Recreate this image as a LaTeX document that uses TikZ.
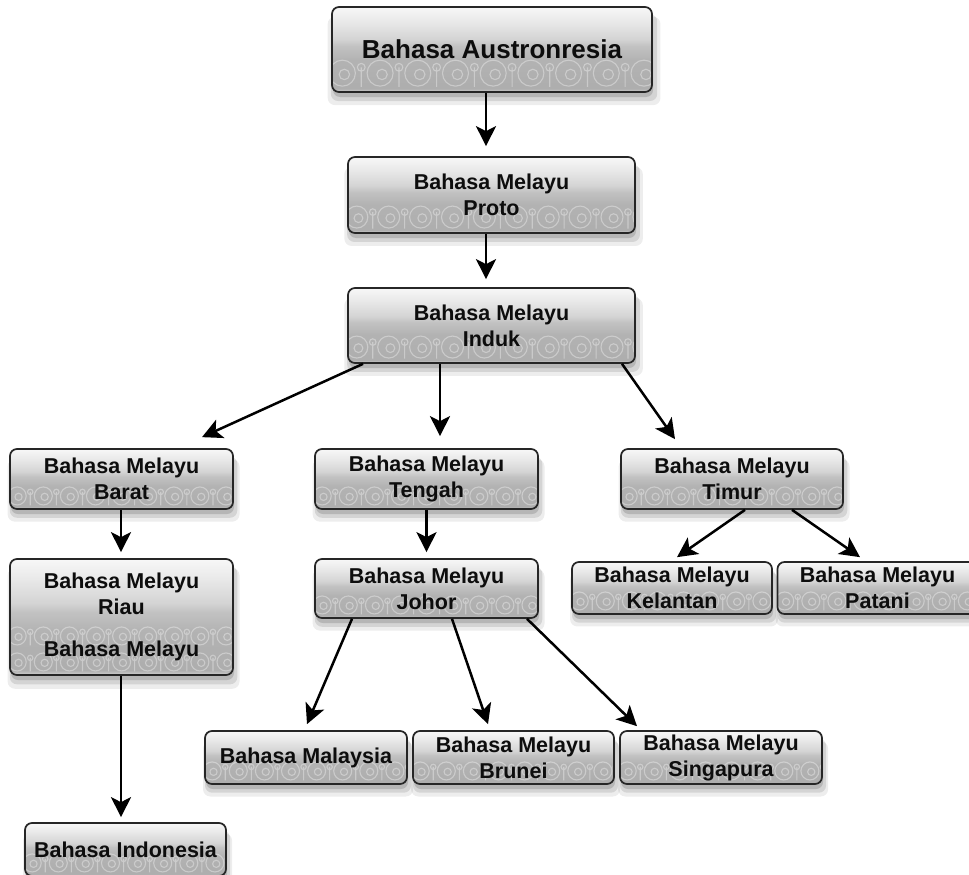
\documentclass[tikz,border=0pt]{standalone}
\usepackage{fontspec}
\setmainfont{Liberation Sans}
\usetikzlibrary{arrows.meta,shadows}
\pgfdeclareverticalshading{boxshade}{100bp}{color(0bp)=(black!18); color(25bp)=(black!18); color(27bp)=(black!32); color(44bp)=(black!30); color(52bp)=(black!24); color(56bp)=(black!17); color(66bp)=(black!9); color(75bp)=(black!3); color(100bp)=(black!3)}
\newcommand\ornrow[2]{%
  \foreach \k in {0,...,13}{%
    \draw[orn] ([xshift={(\k*2.9+0.8)*#1*1pt}, yshift={1.45*#1*1pt+#2*1pt}]path picture bounding box.south west) circle[radius=#1*1pt];
    \draw[orn] ([xshift={(\k*2.9+0.95)*#1*1pt}, yshift={1.35*#1*1pt+#2*1pt}]path picture bounding box.south west) circle[radius=0.4*#1*1pt];
    \draw[orn] ([xshift={(\k*2.9+2.25)*#1*1pt}, yshift={0.4*#1*1pt+#2*1pt}]path picture bounding box.south west) -- ++(0pt,{1.5*#1*1pt}) circle[radius=0.3*#1*1pt];
  }}
\tikzset{
  orn/.style={draw=white, opacity=0.35, line width=1.1pt},
  box/.style={rounded corners=7pt, draw=black!85, line width=1.7pt, shading=boxshade,
    align=center, inner sep=0pt, text=black!95,
    font=\fontsize{21.5}{26}\selectfont\bfseries,
    general shadow={fill=black, opacity=0.07, shadow yshift=-11pt, shadow xshift=2pt, shadow scale=1.04},
    general shadow={fill=black, opacity=0.10, shadow yshift=-8pt, shadow xshift=2pt, shadow scale=1.02},
    general shadow={fill=black, opacity=0.14, shadow yshift=-5pt, shadow xshift=1pt},
    path picture={\ornrow{9}{0}}},
  arr/.style={line width=2.5pt, draw=black, -{Stealth[length=20pt,width=20pt,inset=5pt]}},
}
\begin{document}
\begin{tikzpicture}[x=1pt,y=-1pt]
\useasboundingbox (0,0) rectangle (969,875);
\fill[white] (0,0) rectangle (969,875);

\node[box, minimum width=320pt, minimum height=85pt, font=\fontsize{26}{30}\selectfont\bfseries, path picture={\ornrow{13}{0}}] (aus) at (492,49.5) {Bahasa Austronresia};
\node[box, minimum width=287pt, minimum height=76pt, path picture={\ornrow{11}{0}}] (proto) at (491.5,195) {Bahasa Melayu\\Proto};
\node[box, minimum width=287pt, minimum height=75pt, path picture={\ornrow{11}{0}}] (induk) at (491.5,325.5) {Bahasa Melayu\\Induk};
\node[box, minimum width=223pt, minimum height=60pt] (barat) at (121.5,479) {Bahasa Melayu\\Barat};
\node[box, minimum width=223pt, minimum height=60pt] (tengah) at (426.5,479) {Bahasa Melayu\\Tengah};
\node[box, minimum width=222pt, minimum height=60pt] (timur) at (732,479) {Bahasa Melayu\\Timur};
\node[box, minimum width=223pt, minimum height=116pt, path picture={\ornrow{9}{0}\ornrow{9}{26}}] (riau) at (121.5,617) {Bahasa Melayu\\Riau\\[16pt]Bahasa Melayu};
\node[box, minimum width=223pt, minimum height=59pt] (johor) at (426.5,588.5) {Bahasa Melayu\\Johor};
\node[box, minimum width=200pt, minimum height=52pt] (kelantan) at (672,588) {Bahasa Melayu\\Kelantan};
\node[box, minimum width=200pt, minimum height=52pt] (patani) at (877.5,588) {Bahasa Melayu\\Patani};
\node[box, minimum width=202pt, minimum height=53pt] (malaysia) at (306,757.5) {Bahasa Malaysia};
\node[box, minimum width=201pt, minimum height=53pt] (brunei) at (513.5,757.5) {Bahasa Melayu\\Brunei};
\node[box, minimum width=202pt, minimum height=53pt] (singapura) at (721,757.5) {Bahasa Melayu\\Singapura};
\node[box, minimum width=201pt, minimum height=53pt] (indonesia) at (125.5,849.5) {Bahasa Indonesia};

\draw[arr] ([xshift=-6pt]aus.south) -- ([xshift=-5.5pt,yshift=10pt]proto.north);
\draw[arr] ([xshift=-5.5pt]proto.south) -- ([xshift=-5.5pt,yshift=8pt]induk.north);
\draw[arr] ([xshift=-128.5pt]induk.south) -- ([xshift=80.5pt,yshift=11pt]barat.north);
\draw[arr] ([xshift=-51.5pt]induk.south) -- ([xshift=13.5pt,yshift=12pt]tengah.north);
\draw[arr] ([xshift=130.5pt]induk.south) -- ([xshift=-57pt,yshift=9pt]timur.north);
\draw[arr] ([xshift=-0.5pt]barat.south) -- ([xshift=-0.5pt,yshift=6pt]riau.north);
\draw[arr] (tengah.south) -- ([yshift=6pt]johor.north);
\draw[arr] ([xshift=13pt]timur.south) -- ([xshift=5pt,yshift=4pt]kelantan.north);
\draw[arr] ([xshift=60pt]timur.south) -- ([xshift=-17.5pt,yshift=4pt]patani.north);
\draw[arr] ([xshift=-74.5pt]johor.south) -- ([xshift=1pt,yshift=6pt]malaysia.north);
\draw[arr] ([xshift=25.5pt]johor.south) -- ([xshift=-25.5pt,yshift=6pt]brunei.north);
\draw[arr] ([xshift=100.5pt]johor.south) -- ([xshift=-84pt,yshift=4pt]singapura.north);
\draw[arr] ([xshift=-0.5pt]riau.south) -- ([xshift=-4.5pt,yshift=5pt]indonesia.north);
\end{tikzpicture}
\end{document}
